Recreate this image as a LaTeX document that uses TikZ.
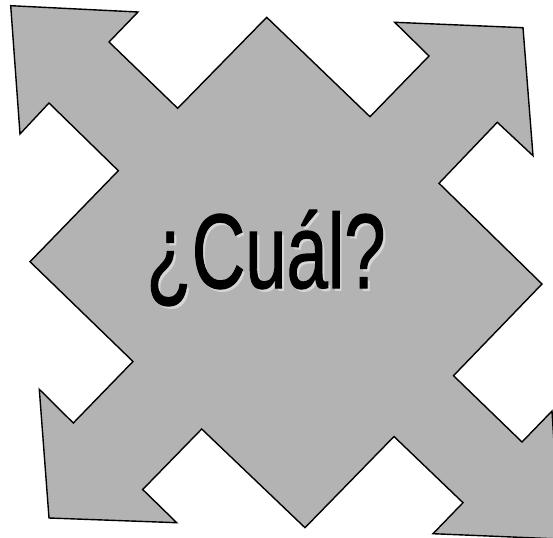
\documentclass[tikz,border=0pt]{standalone}
\usepackage{fontspec}
\newfontfamily\narrowfont[FakeBold=1.2]{Liberation Sans}
\newfontfamily\narrowshadowfont{Liberation Sans}
\definecolor{arrowfill}{RGB}{179,179,179}
\definecolor{shadowgray}{RGB}{214,214,214}
\tikzset{
  quadarrow/.style={fill=arrowfill, draw=black, line width=1.4pt, line join=miter},
  bigtext/.style={font=\narrowfont\fontsize{106}{116}\selectfont, inner sep=0pt, anchor=base},
  shadowtext/.style={font=\narrowshadowfont\fontsize{106}{116}\selectfont, inner sep=0pt, anchor=base}
}
\begin{document}
\begin{tikzpicture}[x=1pt,y=-1pt]
\useasboundingbox (0,0) rectangle (553,537);
\clip (0,0) rectangle (553,537);
\draw[quadarrow]
  (10.7,5.7) -- (138,12) -- (109,42) -- (177.7,108.3) -- (266.7,17.3) -- (370,116.7)
  -- (429,56) -- (394.7,22.3) -- (523,27.7) -- (533,155.7) -- (497.3,122.3)
  -- (439,183.3) -- (542,284) -- (453.5,375.7) -- (522,442) -- (552,411)
  -- (560,539) -- (433,533.7) -- (463,502.7) -- (394,436.5) -- (305,527.7)
  -- (201.7,429) -- (142.7,489.5) -- (176.7,522.7) -- (49,518) -- (39.3,389.3)
  -- (73.3,423) -- (133,361.5) -- (30,261.7) -- (118.3,170.7) -- (49,103)
  -- (20,134) -- cycle;
\node[shadowtext, text=shadowgray] (shadow) at (269,291) {\scalebox{0.70}[1]{¿Cuál?}};
\node[bigtext, text=black] (label) at (266,288) {\scalebox{0.70}[1]{¿Cuál?}};
\end{tikzpicture}
\end{document}
